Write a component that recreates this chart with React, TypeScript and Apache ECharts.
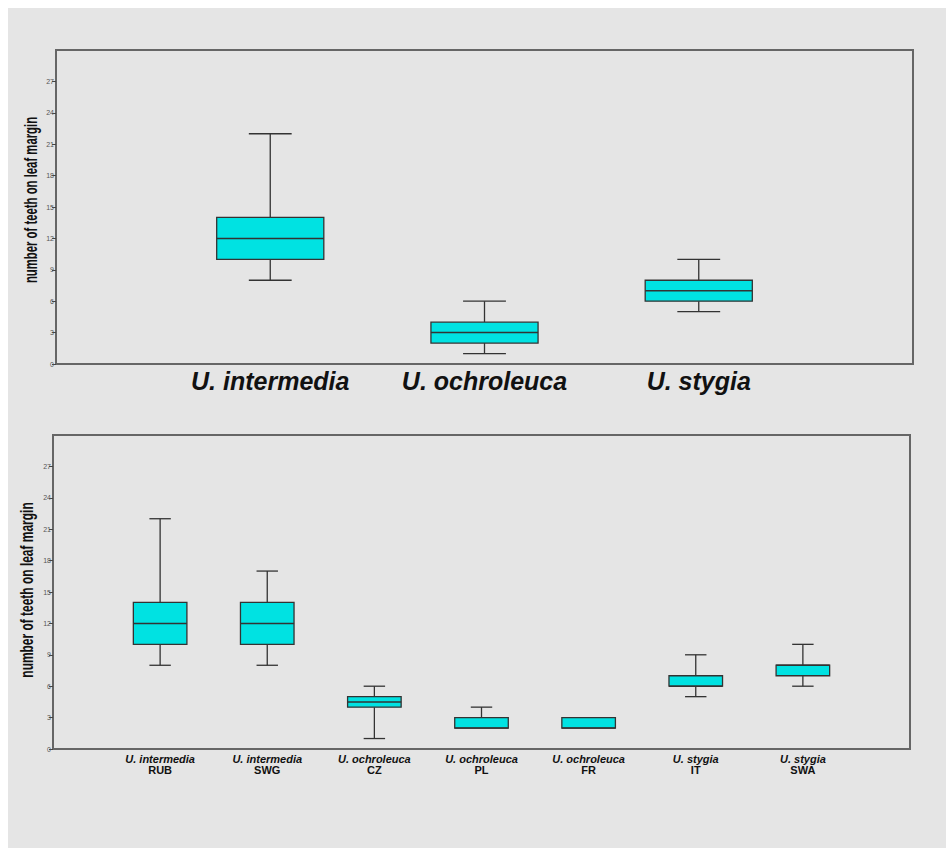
import React, { useEffect, useRef } from "react";
import * as echarts from "echarts";

// ---- data ----
const topCategories = ["", "U. intermedia", "U. ochroleuca", "U. stygia", ""];
// [min, Q1, median, Q3, max]
const topIntermedia = [8, 10, 12, 14, 22];
const topOchroleuca = [1, 2, 3, 4, 6];
const topStygia = [5, 6, 7, 8, 10];

const bottomSpecies = ["", "U. intermedia", "U. intermedia", "U. ochroleuca", "U. ochroleuca", "U. ochroleuca", "U. stygia", "U. stygia", ""];
const bottomPops = ["", "RUB", "SWG", "CZ", "PL", "FR", "IT", "SWA", ""];
const rubValues = [8, 10, 12, 14, 22];
const swgValues = [8, 10, 12, 14, 17];
const czValues = [1, 4, 4.5, 5, 6];
const plValues = [2, 2, 2, 3, 4];
const frValues = [2, 2, 2, 3, 3];
const itValues = [5, 6, 6, 7, 9];
const swaValues = [6, 7, 8, 8, 10];

const yTicks = [0, 3, 6, 9, 12, 15, 18, 21, 24, 27];
const yName = "number of teeth on leaf margin";

const topData = [topIntermedia, topOchroleuca, topStygia].map((v, i) => [i + 1, ...v]);
const bottomData = [rubValues, swgValues, czValues, plValues, frValues, itValues, swaValues].map((v, i) => [i + 1, ...v]);
const bottomLabels = bottomSpecies.map((s, i) => (s ? `{a|${s}}\n{b|${bottomPops[i]}}` : ""));

const BOX_FILL = "#00e2e2";
const LINE = "#333";
const FONT = "'Liberation Sans', Arial, sans-serif";

function renderBox(params: any, api: any) {
  const x = api.value(0);
  const vmin = api.value(1);
  const q1 = api.value(2);
  const med = api.value(3);
  const q3 = api.value(4);
  const vmax = api.value(5);
  const p0 = api.coord([x, 0]);
  const p1 = api.coord([x + 1, 0]);
  const band = Math.abs(p1[0] - p0[0]);
  const half = band * 0.25;
  const cap = half * 0.4;
  const cx = p0[0];
  const yMin = api.coord([x, vmin])[1];
  const yQ1 = api.coord([x, q1])[1];
  const yMed = api.coord([x, med])[1];
  const yQ3 = api.coord([x, q3])[1];
  const yMax = api.coord([x, vmax])[1];
  const ls = { stroke: LINE, lineWidth: 1.3 };
  const children: any[] = [];
  if (vmax > q3) {
    children.push({ type: "line", shape: { x1: cx, y1: yQ3, x2: cx, y2: yMax }, style: ls });
    children.push({ type: "line", shape: { x1: cx - cap, y1: yMax, x2: cx + cap, y2: yMax }, style: ls });
  }
  if (vmin < q1) {
    children.push({ type: "line", shape: { x1: cx, y1: yQ1, x2: cx, y2: yMin }, style: ls });
    children.push({ type: "line", shape: { x1: cx - cap, y1: yMin, x2: cx + cap, y2: yMin }, style: ls });
  }
  children.push({
    type: "rect",
    shape: { x: cx - half, y: yQ3, width: half * 2, height: yQ1 - yQ3 },
    style: { fill: BOX_FILL, stroke: LINE, lineWidth: 1.3 },
  });
  children.push({ type: "line", shape: { x1: cx - half, y1: yMed, x2: cx + half, y2: yMed }, style: { stroke: LINE, lineWidth: 1.5 } });
  return { type: "group", children };
}

function yAxis(gridIndex: number) {
  return {
    type: "value",
    gridIndex,
    min: 0,
    max: 30,
    interval: 3,
    axisLine: { show: false },
    axisTick: { show: true, length: 4, lineStyle: { color: "#444" }, customValues: yTicks },
    axisLabel: { fontSize: 7, color: "#555", margin: 2, fontFamily: FONT, customValues: yTicks },
    splitLine: { show: false },
  };
}

function yTitle(x: number, y: number, sx: number) {
  return {
    type: "text",
    x,
    y,
    rotation: Math.PI / 2,
    scaleX: sx,
    scaleY: 1,
    style: {
      text: yName,
      fontFamily: FONT,
      fontWeight: "bold",
      fontSize: 18,
      fill: "#111",
      align: "center",
      verticalAlign: "middle",
    },
  };
}

export default function App() {
  const ref = useRef<HTMLDivElement>(null);
  useEffect(() => {
    if (!ref.current) return;
    const chart = echarts.init(ref.current, null, { renderer: "svg" });
    chart.setOption({
      animation: false,
      backgroundColor: "#e5e5e5",
      grid: [
        { left: 48, top: 42, right: 33, bottom: 484, show: true, borderColor: "#666", borderWidth: 2, backgroundColor: "transparent" },
        { left: 45, top: 427, right: 36, bottom: 99, show: true, borderColor: "#666", borderWidth: 2, backgroundColor: "transparent" },
      ],
      graphic: [yTitle(22, 192, 0.63), yTitle(19, 582, 0.665)],
      xAxis: [
        {
          type: "category",
          gridIndex: 0,
          data: topCategories,
          boundaryGap: false,
          axisLine: { show: false },
          axisTick: { show: false },
          axisLabel: {
            interval: 0,
            margin: 4,
            fontSize: 25,
            fontWeight: "bold",
            fontStyle: "italic",
            color: "#111",
            fontFamily: FONT,
          },
        },
        {
          type: "category",
          gridIndex: 1,
          data: bottomLabels,
          boundaryGap: false,
          axisLine: { show: false },
          axisTick: { show: false },
          axisLabel: {
            interval: 0,
            margin: 4,
            rich: {
              a: { fontSize: 11, fontWeight: "bold", fontStyle: "italic", color: "#111", fontFamily: FONT, lineHeight: 11 },
              b: { fontSize: 11, fontWeight: "bold", color: "#111", fontFamily: FONT, lineHeight: 12 },
            },
          },
        },
      ],
      yAxis: [yAxis(0), yAxis(1)],
      series: [
        { type: "custom", xAxisIndex: 0, yAxisIndex: 0, renderItem: renderBox, data: topData, encode: { x: 0, y: [1, 2, 3, 4, 5] } },
        { type: "custom", xAxisIndex: 1, yAxisIndex: 1, renderItem: renderBox, data: bottomData, encode: { x: 0, y: [1, 2, 3, 4, 5] } },
      ],
    });
    return () => chart.dispose();
  }, []);
  return <div ref={ref} style={{ position: "absolute", left: 8, top: 8, width: 938, height: 840 }} />;
}
